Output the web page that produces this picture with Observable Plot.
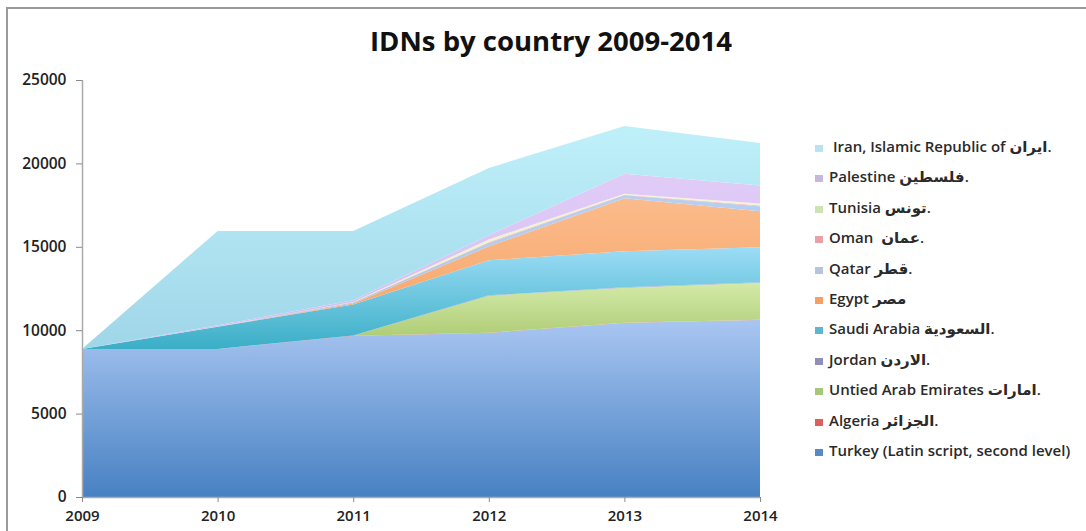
<!DOCTYPE html>
<html>
<head>
<meta charset="utf-8">
<script src="https://cdn.jsdelivr.net/npm/d3@7"></script>
<script src="https://cdn.jsdelivr.net/npm/@observablehq/plot@0.6"></script>
<style>
  html, body { margin: 0; padding: 0; background: #fff; }
  #wrap { position: relative; width: 1086px; height: 531px; overflow: hidden; font-family: "Open Sans", "DejaVu Sans", sans-serif; }
  #frame { position: absolute; left: 6px; top: 7px; width: 1100px; height: 600px; border-top: 2px solid #9a9a9a; border-left: 2px solid #9a9a9a; box-sizing: border-box; }
  #title { position: absolute; left: 0; width: 1102px; top: 22px; text-align: center; font-size: 27.5px; font-weight: 700; color: #111; }
  #legend { position: absolute; left: 815px; top: 136px; }
  .item { height: 30.4px; display: flex; align-items: flex-start; font-size: 15px; font-weight: 600; color: #2a2a2a; white-space: pre; }
  .sw { width: 8px; height: 7px; margin-top: 9px; margin-right: 6px; flex: none; }
  #chart { position: absolute; left: 0; top: 0; }
</style>
</head>
<body>
<div id="wrap">
  <div id="frame"></div>
  <div id="chart"></div>
  <div id="title">IDNs by country 2009-2014</div>
  <div id="legend"></div>
</div>
<script>
// ---- data ----
const years = [2009, 2010, 2011, 2012, 2013, 2014];
const yTicks = [0, 5000, 10000, 15000, 20000, 25000];
// stack order, bottom to top
const countries = ["Turkey", "Algeria", "UAE", "Jordan", "Saudi Arabia", "Egypt", "Qatar", "Oman", "Tunisia", "Palestine", "Iran"];
const turkey      = [8870, 8870, 9650, 9830, 10430, 10610];
const algeria     = [0, 0, 10, 20, 20, 20];
const uae         = [0, 0, 0, 2220, 2100, 2220];
const jordan      = [0, 10, 20, 20, 20, 20];
const saudiArabia = [0, 1320, 1860, 2100, 2160, 2100];
const egypt       = [0, 0, 60, 840, 3180, 2160];
const qatar       = [0, 20, 60, 200, 180, 300];
const oman        = [0, 0, 10, 40, 30, 40];
const tunisia     = [0, 0, 20, 170, 60, 120];
const palestine   = [0, 80, 100, 250, 1200, 1080];
const iran        = [0, 5650, 4160, 4030, 2860, 2550];
const seriesValues = [turkey, algeria, uae, jordan, saudiArabia, egypt, qatar, oman, tunisia, palestine, iran];
// legend labels (same order as countries)
const legendLabels = [
  "Turkey (Latin script, second level)",
  "Algeria الجزائر.",
  "Untied Arab Emirates امارات.",
  "Jordan الاردن.",
  "Saudi Arabia السعودية.",
  "Egypt مصر",
  "Qatar قطر.",
  "Oman  عمان.",
  "Tunisia تونس.",
  "Palestine فلسطين.",
  " Iran, Islamic Republic of ایران."
];

// ---- styles ----
// [bottom colour, top colour, legend swatch]
const palette = [
  ["#4781c2", "#a9c6f2", "#5a8ac6"],
  ["#d9605c", "#e57a76", "#d9605c"],
  ["#a6c66a", "#d4eaa9", "#a8c67a"],
  ["#8f8ab9", "#a39ed0", "#8f8fb8"],
  ["#3aaec6", "#9cdcf6", "#5cb8d0"],
  ["#f7a264", "#fbbb8b", "#f4a065"],
  ["#a8c4ea", "#b8cff2", "#b6c4e0"],
  ["#eea7ae", "#f2b8bd", "#eaa0a8"],
  ["#e9efc2", "#f2f4d4", "#cfe2b4"],
  ["#d3bdf0", "#e1cbf7", "#c6b8dd"],
  ["#9fd6e8", "#bff0fa", "#b9e3ee"]
];

const rows = [];
countries.forEach((c, i) => {
  years.forEach((yr, j) => rows.push({country: c, idx: i, year: yr, value: seriesValues[i][j]}));
});

const plot = Plot.plot({
  width: 1086,
  height: 531,
  marginLeft: 82,
  marginRight: 326,
  marginTop: 80,
  marginBottom: 34,
  style: {fontFamily: "'Open Sans', 'DejaVu Sans', sans-serif", background: "transparent"},
  x: {domain: [2009, 2014], label: null},
  y: {domain: [0, 25000], label: null},
  color: {type: "identity"},
  marks: [
    Plot.areaY(rows, Plot.stackY({
      x: "year",
      y: "value",
      z: "country",
      order: countries,
      fill: d => `url(#grad${d.idx})`
    })),
    Plot.ruleX([2009], {stroke: "#aaaaaa", strokeWidth: 1.5}),
    Plot.ruleY([0], {stroke: "#aaaaaa", strokeWidth: 1.5}),
    Plot.axisY({ticks: yTicks, tickFormat: "d", tickSize: 6, tickPadding: 10, label: null, stroke: "#8a8a8a", fill: "#222", fontSize: 15.5, fontWeight: 600}),
    Plot.axisX({ticks: years, tickFormat: "d", tickSize: 5, tickPadding: 8, label: null, stroke: "#8a8a8a", fill: "#222", fontSize: 15, fontWeight: 600})
  ]
});

// gradients
const svg = d3.select(plot);
const defs = svg.insert("defs", ":first-child");
palette.forEach((p, i) => {
  const g = defs.append("linearGradient").attr("id", `grad${i}`)
    .attr("x1", 0).attr("y1", 1).attr("x2", 0).attr("y2", 0);
  g.append("stop").attr("offset", "0%").attr("stop-color", p[0]);
  g.append("stop").attr("offset", "100%").attr("stop-color", p[1]);
});

document.getElementById("chart").appendChild(plot);

// legend (top to bottom = reverse stack order)
const legend = d3.select("#legend");
for (let i = countries.length - 1; i >= 0; i--) {
  const it = legend.append("div").attr("class", "item");
  it.append("div").attr("class", "sw").style("background", palette[i][2]);
  it.append("span").text(legendLabels[i]);
}
</script>
</body>
</html>
